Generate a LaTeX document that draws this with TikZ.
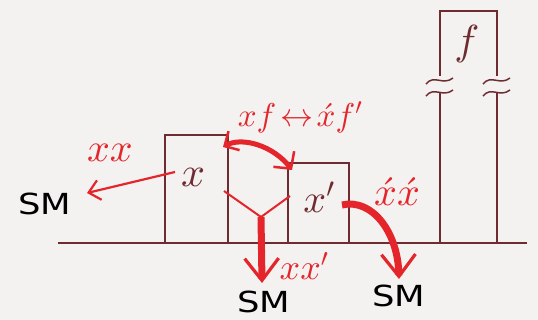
\documentclass[tikz,border=0pt]{standalone}
\usepackage{fontspec}
\DeclareFontShape{OML}{cmm}{m}{it}{<-> cmmi10}{}
\DeclareFontShape{OMS}{cmsy}{m}{n}{<-> cmsy10}{}
\DeclareFontShape{OT1}{cmr}{m}{n}{<-> cmr10}{}
\newfontfamily\smfont{DejaVu Sans}
\usetikzlibrary{arrows.meta}
\definecolor{bg}{HTML}{F3F2F0}
\definecolor{ink}{HTML}{6E2C30}
\definecolor{rd}{HTML}{E4262C}
\begin{document}
\begin{tikzpicture}[x=1pt,y=-1pt,
  boxst/.style={draw=ink,line width=1.8pt,inner sep=0pt},
  smtext/.style={font=\smfont\fontsize{29}{29}\selectfont,text=black,inner sep=0pt,xscale=1.22,transform shape},
  redlab/.style={text=rd,font=\fontsize{#1}{#1}\selectfont,inner sep=0pt},
  boxlab/.style={text=ink,font=\fontsize{#1}{#1}\selectfont,inner sep=0pt},
  thinline/.style={draw=rd,line width=2pt},
  thinarr/.style={draw=rd,line width=2.2pt,-{Straight Barb[length=11pt,width=20pt]}},
  dblarr/.style={draw=rd,line width=5pt,{Straight Barb[line width=2.5pt,length=11pt,width=22pt]}-{Straight Barb[line width=2.5pt,length=12pt,width=26pt]}},
  fatarr/.style={draw=rd,line width=7pt,-{Straight Barb[line width=3.2pt,length=22pt,width=34pt]}},
  inkline/.style={draw=ink,line width=1.8pt},
  wig/.style={draw=ink,line width=1.5pt}
]
\fill[bg] (0,0) rectangle (538,320);
\useasboundingbox (0,0) rectangle (538,320);

% ground line
\coordinate (g1) at (58,243);
\coordinate (g2) at (527,243);
\draw[inkline] (g1) -- (g2);

% boxes
\node[boxst,minimum width=63pt,minimum height=108pt] (bx) at (196.5,189) {};
\node[boxst,minimum width=61pt,minimum height=80pt] (bxp) at (318.5,203) {};
\node[boxlab=42] (lx) at (193,177) {$x$};
\node[boxlab=40] (lxp) at (319,197) {$x'$};

% tall f box with break marks
\coordinate (fl1) at (440,11);
\coordinate (fr1) at (497,11);
\coordinate (fl2) at (440,76);
\coordinate (fr2) at (497,76);
\coordinate (fl3) at (440,93);
\coordinate (fr3) at (497,93);
\coordinate (fl4) at (440,243);
\coordinate (fr4) at (497,243);
\draw[inkline] (fl2) -- (fl1) -- (fr1) -- (fr2);
\draw[inkline] (fl3) -- (fl4);
\draw[inkline] (fr3) -- (fr4);
\foreach \xx in {440,497}{
  \draw[wig] (\xx-14,84) .. controls (\xx-6,74) and (\xx+3,86) .. (\xx+13,78);
  \draw[wig] (\xx-14,96) .. controls (\xx-6,86) and (\xx+3,98) .. (\xx+13,90);
}
\node[boxlab=42] (lf) at (467,44) {$f$};

% labels
\node[smtext] (sm1) at (45,204) {SM};
\node[smtext] (sm2) at (264,302) {SM};
\node[smtext] (sm3) at (399,296) {SM};
\node[redlab=40] (lxx) at (110,153) {$xx$};
\node[redlab=33] (lxf) at (300,117) {$xf\!\leftrightarrow\!\acute{x}f'$};
\node[redlab=40] (lxpxp) at (397,192) {$\acute{x}\acute{x}$};
\node[redlab=36] (lxxp) at (304,266) {$xx'$};

% xx arrow
\coordinate (a1s) at (175,172);
\coordinate (a1e) at (87,193);
\draw[thinarr] (a1s) -- (a1e);

% exchange arrow
\coordinate (a2s) at (223,147);
\coordinate (a2e) at (292,170);
\draw[dblarr] (a2s) .. controls (242,136) and (274,146) .. (a2e);

% Y shape
\coordinate (yl) at (224,191);
\coordinate (yr) at (290,196);
\coordinate (yj) at (261,217);
\coordinate (ye) at (262,283);
\draw[thinline,line join=round] (yl) -- (yj) -- (yr);
\draw[fatarr] (yj) -- (ye);

% x'x' arrow
\coordinate (a3s) at (342,205);
\coordinate (a3e) at (399,279);
\draw[fatarr] (a3s) .. controls (372,198) and (398,232) .. (a3e);
\end{tikzpicture}
\end{document}
